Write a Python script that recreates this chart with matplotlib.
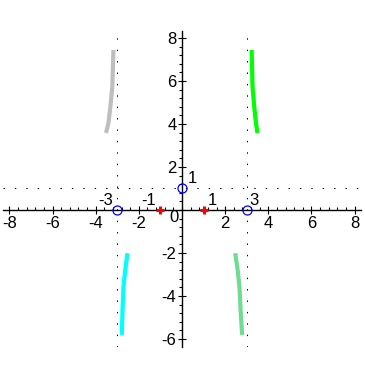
import matplotlib
matplotlib.use("Agg")
import matplotlib.pyplot as plt
from matplotlib.ticker import FixedLocator, MultipleLocator

# curve branches
gray_x = [-3.18, -3.23, -3.32, -3.41, -3.52]
gray_y = [7.44, 5.73, 4.80, 4.05, 3.58]
green_x = [3.23, 3.27, 3.35, 3.43, 3.50]
green_y = [7.44, 5.73, 4.80, 4.05, 3.58]
cyan_x = [-2.53, -2.64, -2.72, -2.76, -2.79]
cyan_y = [-2.01, -2.87, -3.64, -4.73, -5.81]
aqua_x = [2.47, 2.59, 2.67, 2.72, 2.79]
aqua_y = [-2.01, -2.87, -3.64, -4.73, -5.81]

# marked points
circle_x = [-3, 3, 0]
circle_y = [0, 0, 1]
cross_x = [-1, 1]
cross_y = [0, 0]
asym_x = [-3, 3]
asym_y = [1]

point_labels = ["-3", "3", "1", "-1", "1"]
label_x = [-3.22, 3.12, 0.26, -1.22, 1.18]
label_y = [0.1, 0.1, 1.1, 0.1, 0.1]
label_ha = ["right", "left", "left", "right", "left"]

xticks = [-8, -6, -4, -2, 2, 4, 6, 8]
yticks = [-6, -4, -2, 2, 4, 6, 8]

plt.rcParams["font.family"] = ["Liberation Sans", "DejaVu Sans"]
plt.rcParams["axes.unicode_minus"] = False

fig = plt.figure(figsize=(3.65, 3.77), dpi=100)
ax = fig.add_axes([3 / 365, 30.5 / 377, 358 / 365, 315 / 377])
ax.set_xlim(-8.3, 8.3)
ax.set_ylim(-6.35, 8.3)

# asymptotes, dotted
dots = (0, (1.4, 10))
for xv in asym_x:
    ax.axvline(xv, color="black", lw=0.72, ls=dots, zorder=1)
for yv in asym_y:
    ax.axhline(yv, color="black", lw=0.72, ls=dots, zorder=1)

lw = 3.0
ax.plot(gray_x, gray_y, color="#bebebe", lw=lw, solid_capstyle="butt")
ax.plot(green_x, green_y, color="#00ff00", lw=lw, solid_capstyle="butt")
ax.plot(cyan_x, cyan_y, color="#00ffff", lw=lw, solid_capstyle="butt")
ax.plot(aqua_x, aqua_y, color="#70db93", lw=lw, solid_capstyle="butt")

ax.plot(circle_x, circle_y, "o", mfc="none", mec="blue", ms=6.5, mew=0.9, zorder=5)
ax.plot(cross_x, cross_y, "+", color="red", ms=6, mew=2.2, zorder=5)

for t, x, y, ha in zip(point_labels, label_x, label_y, label_ha):
    ax.text(x, y, t, ha=ha, va="bottom", fontsize=12)
ax.text(-0.37, -0.37, "0", ha="center", va="center", fontsize=12)

# axes through the origin
for s in ["top", "right"]:
    ax.spines[s].set_visible(False)
ax.spines["left"].set_position("zero")
ax.spines["bottom"].set_position("zero")
ax.spines["left"].set_linewidth(1.0)
ax.spines["bottom"].set_linewidth(1.0)
ax.patch.set_visible(False)

ax.xaxis.set_major_locator(FixedLocator(xticks))
ax.yaxis.set_major_locator(FixedLocator(yticks))
ax.xaxis.set_minor_locator(MultipleLocator(0.4))
ax.yaxis.set_minor_locator(MultipleLocator(0.4))
ax.tick_params(which="major", direction="inout", length=6, width=0.8, labelsize=12, pad=1)
ax.tick_params(axis="x", which="minor", direction="in", length=2.5, width=0.8)
ax.tick_params(axis="y", which="minor", direction="out", length=2.5, width=0.8)

fig.savefig("out.png", dpi=100)
